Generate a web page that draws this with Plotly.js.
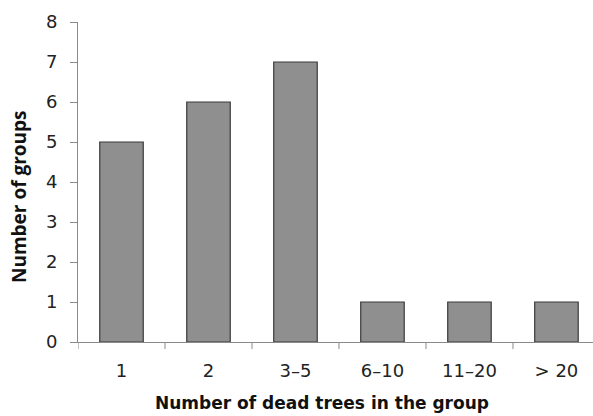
<!DOCTYPE html>
<html><head><meta charset="utf-8">
<script src="https://cdn.plot.ly/plotly-3.0.1.min.js"></script>
<style>html,body{margin:0;padding:0;background:#fff;}#c{width:593px;height:416px;}</style>
</head><body><div id="c"></div>
<script>
const categories = ["1", "2", "3–5", "6–10", "11–20", "> 20"];
const groupCounts = [5, 6, 7, 1, 1, 1];
const yTicks = [0, 1, 2, 3, 4, 5, 6, 7, 8];
const xTitle = "Number of dead trees in the group";
const yTitle = "Number of groups";

const W = 593, H = 416, L = 78, T = 22, B = 74, R = 0;
const pw = W - L - R, ph = H - T - B;

const trace = {
  type: "bar",
  x: categories,
  y: groupCounts,
  marker: {color: "#8f8f8f", line: {color: "#3a3a3a", width: 1.2}},
  hoverinfo: "x+y"
};
const layout = {
  width: W, height: H,
  margin: {l: L, r: R, t: T, b: B},
  paper_bgcolor: "#fff", plot_bgcolor: "#fff",
  bargap: 0.5,
  showlegend: false,
  font: {family: "DejaVu Sans, sans-serif", color: "#222"},
  xaxis: {
    type: "category",
    range: [-0.5, 5.42],
    showline: true, linecolor: "#8a8a8a", linewidth: 1,
    ticks: "", showgrid: false, zeroline: false,
    tickfont: {family: "DejaVu Sans, sans-serif", size: 18, color: "#222"},
    ticklabelstandoff: 12
  },
  yaxis: {
    range: [0, 8],
    tickvals: yTicks,
    showline: true, linecolor: "#8a8a8a", linewidth: 1,
    ticks: "outside", ticklen: 7, tickcolor: "#8a8a8a",
    showgrid: false, zeroline: false,
    tickfont: {family: "DejaVu Sans, sans-serif", size: 18, color: "#222"},
    ticklabelstandoff: 9
  },
  annotations: [
    {text: xTitle, xref: "paper", yref: "paper", x: (322 - L) / pw, y: (H - B - 403) / ph,
     xanchor: "center", yanchor: "middle", showarrow: false,
     font: {family: "DejaVu Sans, sans-serif", size: 17, color: "#111", weight: "bold"}},
    {text: yTitle, xref: "paper", yref: "paper", x: (19 - L) / pw, y: (H - B - 197) / ph,
     xanchor: "center", yanchor: "middle", showarrow: false, textangle: -90,
     font: {family: "Open Sans, sans-serif", size: 19, color: "#111", weight: "bold"}}
  ],
  shapes: []
};
// boundary tick marks between categories on x-axis
for (let i = 0; i <= categories.length; i++) {
  layout.shapes.push({type: "line", xref: "x", yref: "paper", x0: i - 0.5, x1: i - 0.5, y0: 0, y1: -0.022, line: {color: "#8a8a8a", width: 1}});
}
Plotly.newPlot("c", [trace], layout, {displayModeBar: false, staticPlot: true});
</script></body></html>
